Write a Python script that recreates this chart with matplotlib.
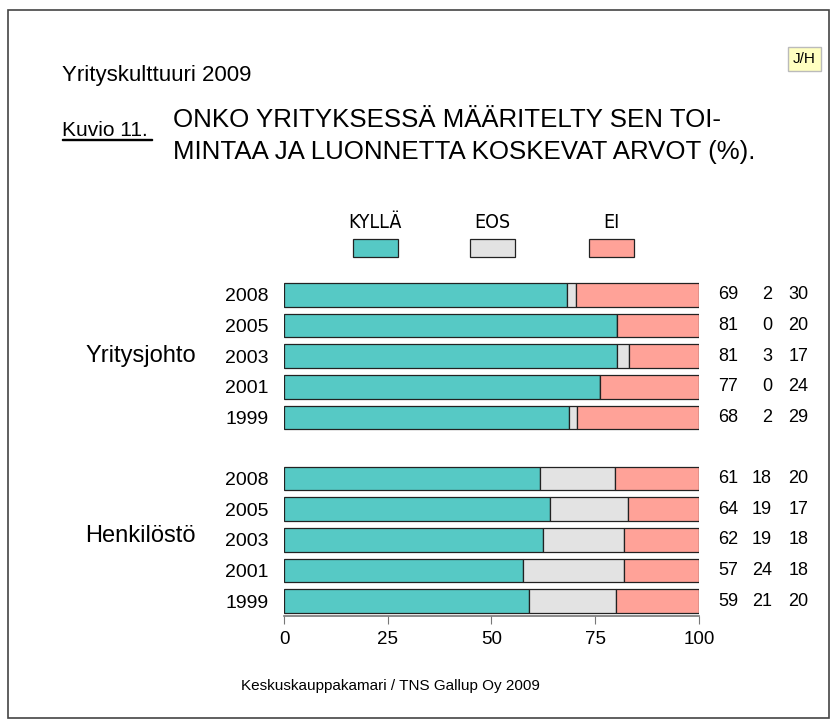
import numpy as np
import matplotlib.pyplot as plt
from matplotlib.patches import Rectangle

plt.rcParams['font.family'] = ['Liberation Sans', 'DejaVu Sans']

years = ['2008', '2005', '2003', '2001', '1999']
groups = ['Yritysjohto', 'Henkilöstö']
kylla = [69, 81, 81, 77, 68, 61, 64, 62, 57, 59]
eos = [2, 0, 3, 0, 2, 18, 19, 19, 24, 21]
ei = [30, 20, 17, 24, 29, 20, 17, 18, 18, 20]
# bar ends as drawn (rounded figures do not always add up to 100)
kylla_end = [68.3, 80.3, 80.3, 76.2, 68.7, 61.6, 64.0, 62.5, 57.5, 59.0]
eos_end = [70.3, 80.3, 83.2, 76.2, 70.7, 79.8, 83.0, 82.0, 82.0, 80.0]
series = ['KYLLÄ', 'EOS', 'EI']
colors = ['#56C9C5', '#E3E3E3', '#FFA298']

fig = plt.figure(figsize=(8.35, 7.27), dpi=100)
W, H = 835, 727

def fx(px):
    return px / W

def fy(py):
    return 1 - py / H

# outer frame
fig.patches.append(Rectangle((fx(8), fy(718)), fx(821), (718 - 10) / H,
                             transform=fig.transFigure, fill=False,
                             edgecolor='#444444', linewidth=1.2))

fig.text(fx(62), fy(75), 'Yrityskulttuuri 2009', fontsize=16, va='center')
fig.text(fx(804.5), fy(59), 'J/H', fontsize=11, ha='center', va='center',
         bbox=dict(boxstyle='square,pad=0.35', facecolor='#FFFFC0',
                   edgecolor='#BBBBBB', linewidth=1))
fig.text(fx(62), fy(130), 'Kuvio 11.', fontsize=15, va='center')
fig.patches.append(Rectangle((fx(62), fy(140)), fx(90), 1.0 / H,
                             transform=fig.transFigure, color='black'))
fig.text(fx(173), fy(120), 'ONKO YRITYKSESSÄ MÄÄRITELTY SEN TOI-',
         fontsize=18.6, va='center')
fig.text(fx(173), fy(152), 'MINTAA JA LUONNETTA KOSKEVAT ARVOT (%).',
         fontsize=18.6, va='center')

# axes
ax = fig.add_axes([fx(284), fy(616), fx(699 - 284), (616 - 276.6) / H])
ypos = [0, 1, 2, 3, 4, 6, 7, 8, 9, 10]
h = 0.77
starts = [np.zeros(10), np.array(kylla_end), np.array(eos_end)]
ends = [np.array(kylla_end), np.array(eos_end), np.full(10, 100.0)]
for s, e, c in zip(starts, ends, colors):
    ax.barh(ypos, e - s, left=s, height=h, color=c, edgecolor='#222222',
            linewidth=0.9)

ax.set_ylim(10.49, -0.6)
ax.set_xlim(0, 100)
ax.set_xticks([0, 25, 50, 75, 100])
ax.tick_params(axis='x', labelsize=13.5, length=6, color='#777777', pad=5)
ax.set_yticks(ypos)
ax.set_yticklabels(years + years, fontsize=14)
ax.tick_params(axis='y', length=0, pad=11)
for sp in ['top', 'right', 'left']:
    ax.spines[sp].set_visible(False)
ax.spines['bottom'].set_color('#777777')
ax.spines['bottom'].set_linewidth(1.2)

# values on the right
for y, a, b, c in zip(ypos, kylla, eos, ei):
    for xv, v in zip([109.4, 117.6, 126.3], [a, b, c]):
        ax.text(xv, y, str(v), ha='right', va='center', fontsize=13,
                clip_on=False)

fig.text(fx(85), fy(356), groups[0], fontsize=17, va='center')
fig.text(fx(85), fy(536), groups[1], fontsize=17, va='center')

# legend
for cx, lab, col in zip([375, 492, 611], series, colors):
    fig.text(fx(cx), fy(223), lab, fontsize=14, ha='center', va='center',
             family=['DejaVu Sans'], fontstretch='condensed')
    fig.patches.append(Rectangle((fx(cx - 22), fy(257)), fx(45), 18 / H,
                                 transform=fig.transFigure, facecolor=col,
                                 edgecolor='#222222', linewidth=0.9))

fig.text(fx(390), fy(686), 'Keskuskauppakamari / TNS Gallup Oy 2009',
         fontsize=11, ha='center', va='center')

fig.savefig('out.png', dpi=100)
